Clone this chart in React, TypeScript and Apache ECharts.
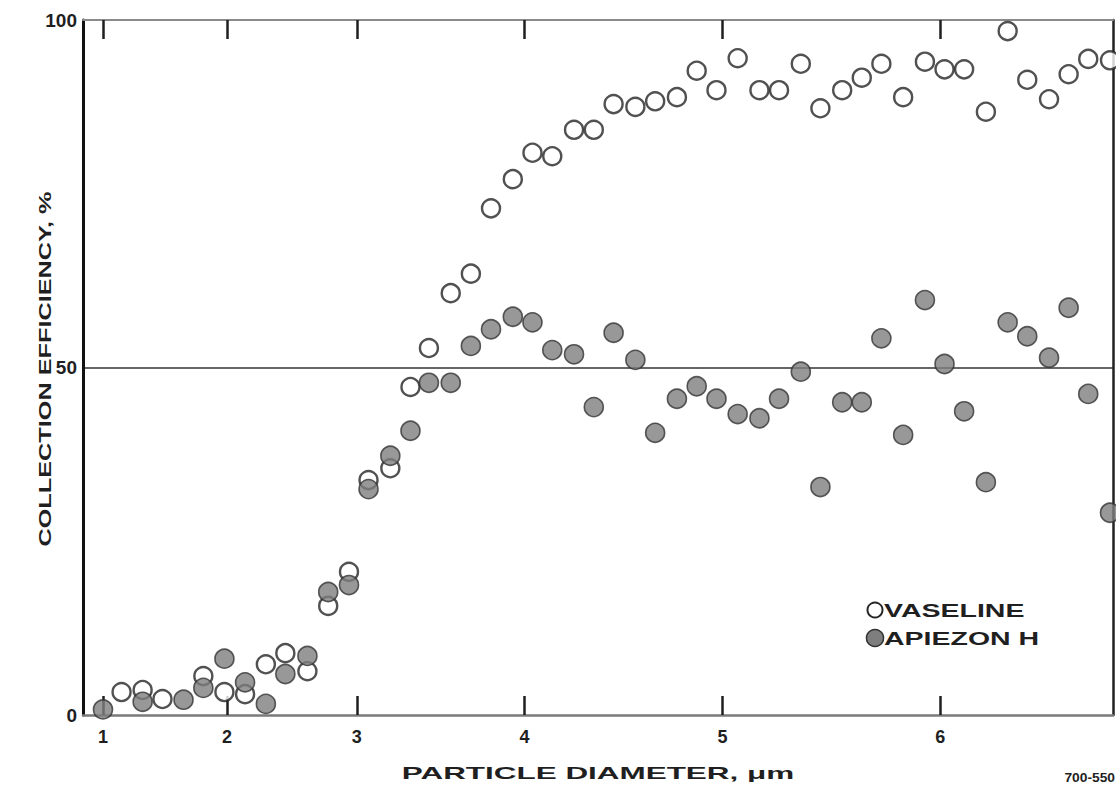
import { useEffect, useRef } from 'react';
import * as echarts from 'echarts';

// Whole-micrometre ticks of the diameter axis and where each sits along the
// instrument's non-linear diameter scale (per-mille of the axis length).
const DIAMETER_TICKS = [1, 2, 3, 4, 5, 6];
const SCALE_POSITIONS = [19.4, 139.7, 265.8, 428.7, 620.8, 832.2];
const EFFICIENCY_TICKS = [0, 50, 100];

// Vaseline-coated collector
const VASELINE_DIAMETER = [
  1.15, 1.32, 1.48, 1.81, 1.98, 2.14, 2.3, 2.45, 2.62, 2.78, 2.94, 3.07, 3.2, 3.32, 3.43, 3.56,
  3.68, 3.8, 3.93, 4.04, 4.14, 4.25, 4.35, 4.45, 4.56, 4.66, 4.77, 4.87, 4.97, 5.07, 5.17, 5.26,
  5.36, 5.45, 5.55, 5.64, 5.73, 5.83, 5.93, 6.02, 6.11, 6.21, 6.31, 6.4, 6.5, 6.59, 6.68, 6.78,
];
const VASELINE_EFFICIENCY = [
  3.3, 3.6, 2.3, 5.6, 3.3, 3.0, 7.3, 8.9, 6.3, 15.7, 20.6, 33.8, 35.5, 47.2, 52.8, 60.7,
  63.5, 72.9, 77.1, 80.9, 80.4, 84.2, 84.2, 87.9, 87.5, 88.3, 88.9, 92.7, 89.9, 94.5, 89.9, 89.9,
  93.7, 87.3, 89.9, 91.7, 93.7, 88.9, 94.0, 92.9, 92.9, 86.8, 98.4, 91.4, 88.6, 92.2, 94.4, 94.2,
];

// Apiezon H grease-coated collector
const APIEZON_DIAMETER = [
  1.0, 1.32, 1.65, 1.81, 1.98, 2.14, 2.3, 2.45, 2.62, 2.78, 2.94, 3.07, 3.2, 3.32, 3.43, 3.56,
  3.68, 3.8, 3.93, 4.04, 4.14, 4.25, 4.35, 4.45, 4.56, 4.66, 4.77, 4.87, 4.97, 5.07, 5.17, 5.26,
  5.36, 5.45, 5.55, 5.64, 5.73, 5.83, 5.93, 6.02, 6.11, 6.21, 6.31, 6.4, 6.5, 6.59, 6.68, 6.78,
];
const APIEZON_EFFICIENCY = [
  0.8, 1.9, 2.2, 3.9, 8.1, 4.7, 1.6, 5.9, 8.5, 17.7, 18.7, 32.5, 37.3, 40.9, 47.8, 47.8,
  53.1, 55.5, 57.3, 56.5, 52.5, 51.9, 44.3, 55.0, 51.1, 40.6, 45.5, 47.3, 45.5, 43.3, 42.7, 45.5,
  49.4, 32.8, 45.0, 45.0, 54.2, 40.3, 59.7, 50.5, 43.7, 33.5, 56.5, 54.5, 51.4, 58.6, 46.2, 29.1,
];

const FONT = '"Liberation Sans", Arial, Helvetica, sans-serif';
const INK = '#1f1f1f';

// Piecewise-linear diameter scale, extended past the end ticks with the end slopes.
function toScale(d: number): number {
  const n = DIAMETER_TICKS.length;
  let i = 0;
  if (d >= DIAMETER_TICKS[n - 1]) i = n - 2;
  else if (d > DIAMETER_TICKS[0]) {
    while (d > DIAMETER_TICKS[i + 1]) i++;
  }
  const d0 = DIAMETER_TICKS[i];
  const d1 = DIAMETER_TICKS[i + 1];
  const p0 = SCALE_POSITIONS[i];
  const p1 = SCALE_POSITIONS[i + 1];
  return p0 + ((d - d0) * (p1 - p0)) / (d1 - d0);
}

function diameterLabel(v: number): string {
  let best = 0;
  for (let i = 1; i < SCALE_POSITIONS.length; i++) {
    if (Math.abs(SCALE_POSITIONS[i] - v) < Math.abs(SCALE_POSITIONS[best] - v)) best = i;
  }
  return String(DIAMETER_TICKS[best]);
}

export default function App() {
  const ref = useRef<HTMLDivElement>(null);

  useEffect(() => {
    if (!ref.current) return;
    const chart = echarts.init(ref.current, undefined, { renderer: 'svg' });
    const tickValues = DIAMETER_TICKS.map(toScale);

    const xCommon = {
      type: 'value' as const,
      min: 0,
      max: 1000,
      splitLine: { show: false },
      axisTick: {
        show: true,
        inside: true,
        length: 19,
        customValues: tickValues,
        lineStyle: { color: INK, width: 2.5 },
      },
    };

    const textBase = {
      fontWeight: 'bold' as const,
      fontFamily: FONT,
      fill: INK,
      textVerticalAlign: 'middle' as const,
    };

    chart.setOption({
      animation: false,
      backgroundColor: '#ffffff',
      grid: { left: 83, right: 3, top: 20, bottom: 74, containLabel: false },
      xAxis: [
        {
          ...xCommon,
          position: 'bottom',
          axisLine: { show: true, onZero: false, lineStyle: { color: '#7a7a7a', width: 2.5 } },
          axisLabel: {
            show: true,
            customValues: tickValues,
            formatter: (v: number) => diameterLabel(v),
            margin: 13,
            fontSize: 18,
            fontWeight: 'bold',
            fontFamily: FONT,
            color: INK,
          },
        },
        {
          ...xCommon,
          position: 'top',
          axisLine: { show: true, onZero: false, lineStyle: { color: '#8a8a8a', width: 2 } },
          axisLabel: { show: false },
        },
      ],
      yAxis: [
        {
          type: 'value',
          min: EFFICIENCY_TICKS[0],
          max: EFFICIENCY_TICKS[EFFICIENCY_TICKS.length - 1],
          interval: EFFICIENCY_TICKS[1] - EFFICIENCY_TICKS[0],
          position: 'left',
          axisLine: { show: true, onZero: false, lineStyle: { color: '#111', width: 3 } },
          axisTick: { show: false },
          axisLabel: {
            margin: 6,
            fontSize: 19,
            fontWeight: 'bold',
            fontFamily: FONT,
            color: INK,
          },
          splitLine: {
            show: true,
            lineStyle: { color: ['rgba(0,0,0,0)', '#333333'], width: 1.5 },
          },
        },
        {
          type: 'value',
          min: EFFICIENCY_TICKS[0],
          max: EFFICIENCY_TICKS[EFFICIENCY_TICKS.length - 1],
          interval: EFFICIENCY_TICKS[1] - EFFICIENCY_TICKS[0],
          position: 'right',
          axisLine: { show: true, onZero: false, lineStyle: { color: '#222', width: 2.5 } },
          axisTick: { show: false },
          axisLabel: { show: false },
          splitLine: { show: false },
        },
      ],
      series: [
        {
          name: 'VASELINE',
          type: 'scatter',
          symbol: 'circle',
          symbolSize: 18,
          z: 2,
          itemStyle: { color: '#ffffff', borderColor: '#262626', borderWidth: 2.4 },
          data: VASELINE_DIAMETER.map((d, i) => [toScale(d), VASELINE_EFFICIENCY[i]]),
        },
        {
          name: 'APIEZON H',
          type: 'scatter',
          symbol: 'circle',
          symbolSize: 19,
          z: 3,
          itemStyle: { color: '#7e7e7e', borderColor: '#333333', borderWidth: 1.6 },
          data: APIEZON_DIAMETER.map((d, i) => [toScale(d), APIEZON_EFFICIENCY[i]]),
        },
      ],
      graphic: [
        {
          type: 'text',
          x: 598,
          y: 773,
          scaleX: 1.85,
          style: { ...textBase, text: 'PARTICLE DIAMETER, μm', fontSize: 17, textAlign: 'center' },
        },
        {
          type: 'text',
          x: 45,
          y: 369,
          rotation: Math.PI / 2,
          scaleX: 1.58,
          style: { ...textBase, text: 'COLLECTION EFFICIENCY, %', fontSize: 16, textAlign: 'center' },
        },
        {
          type: 'circle',
          shape: { cx: 875, cy: 610, r: 7.5 },
          style: { fill: '#ffffff', stroke: '#262626', lineWidth: 2 },
        },
        {
          type: 'circle',
          shape: { cx: 875, cy: 638, r: 8.5 },
          style: { fill: '#7e7e7e', stroke: '#333333', lineWidth: 1.5 },
        },
        {
          type: 'text',
          x: 884,
          y: 610,
          scaleX: 1.5,
          style: { ...textBase, text: 'VASELINE', fontSize: 19, textAlign: 'left' },
        },
        {
          type: 'text',
          x: 884,
          y: 638,
          scaleX: 1.5,
          style: { ...textBase, text: 'APIEZON H', fontSize: 19, textAlign: 'left' },
        },
        {
          type: 'text',
          x: 1115,
          y: 778,
          scaleX: 1.15,
          style: { ...textBase, text: '700-550', fontSize: 12, textAlign: 'right' },
        },
      ],
    });

    return () => chart.dispose();
  }, []);

  return (
    <div
      ref={ref}
      style={{ position: 'fixed', left: 0, top: 0, width: 1116, height: 789, background: '#fff' }}
    />
  );
}
